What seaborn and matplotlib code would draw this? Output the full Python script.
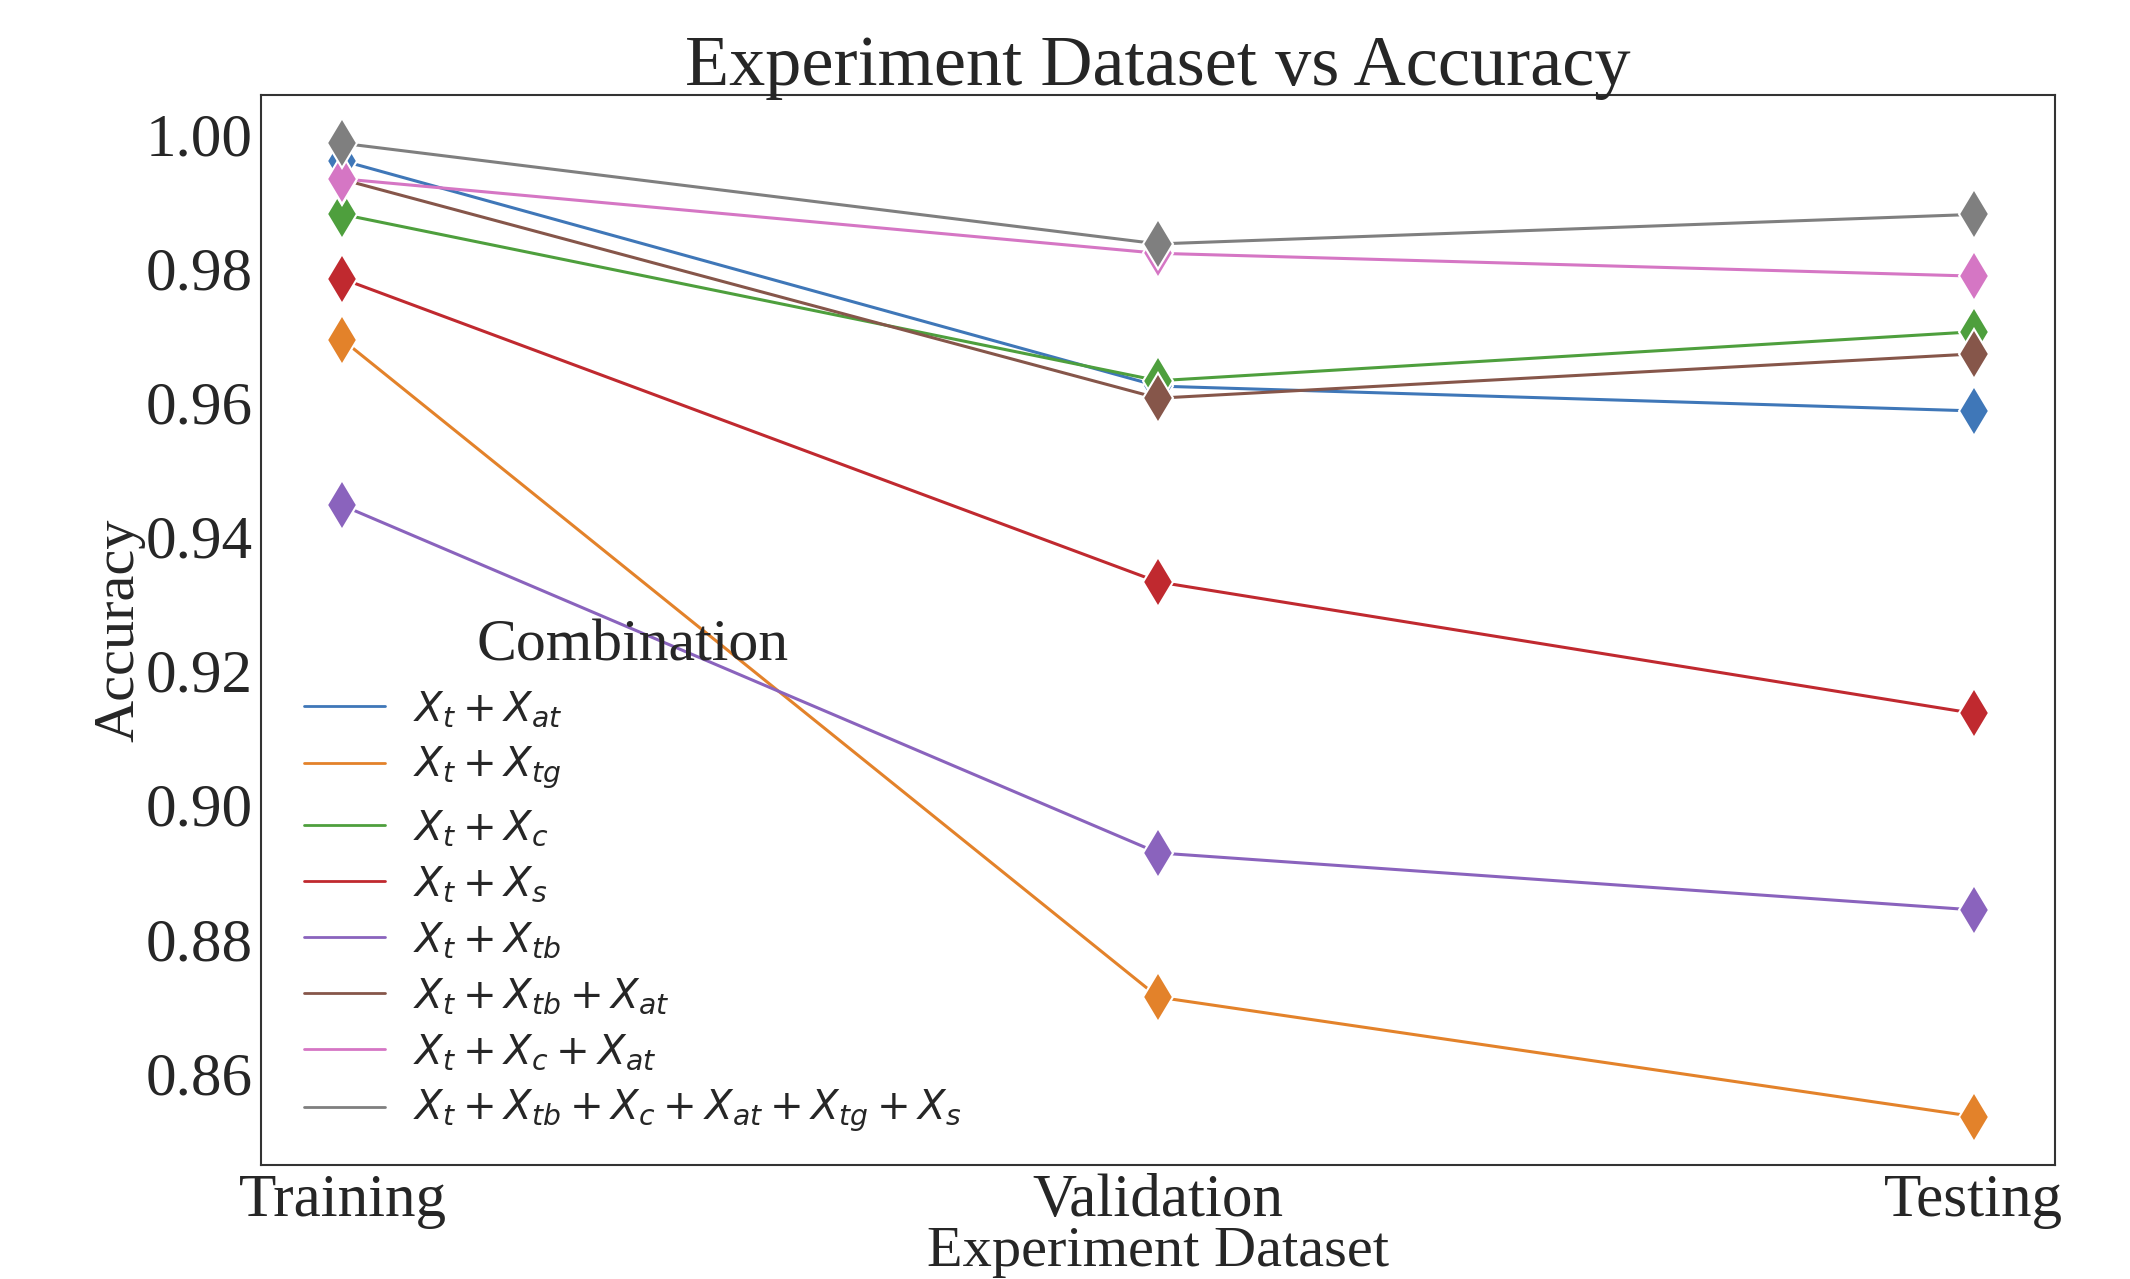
import matplotlib
matplotlib.use("Agg")
import matplotlib.pyplot as plt
import seaborn as sns
import pandas as pd

# Data
datasets = ["Training", "Validation", "Testing"]
combinations = [
    r"$X_t + X_{at}$",
    r"$X_t + X_{tg}$",
    r"$X_t + X_c$",
    r"$X_t + X_s$",
    r"$X_t + X_{tb}$",
    r"$X_t + X_{tb} + X_{at}$",
    r"$X_t + X_c + X_{at}$",
    r"$X_t + X_{tb} + X_c + X_{at} + X_{tg} + X_s$",
]
acc_t_at = [0.9960, 0.9624, 0.9587]
acc_t_tg = [0.9693, 0.8713, 0.8535]
acc_t_c = [0.9880, 0.9632, 0.9705]
acc_t_s = [0.9784, 0.9332, 0.9136]
acc_t_tb = [0.9446, 0.8928, 0.8843]
acc_t_tb_at = [0.9932, 0.9606, 0.9672]
acc_t_c_at = [0.9933, 0.9822, 0.9788]
acc_all = [0.9986, 0.9836, 0.9880]

series = [acc_t_at, acc_t_tg, acc_t_c, acc_t_s, acc_t_tb, acc_t_tb_at, acc_t_c_at, acc_all]

# tab10-like colours, slightly muted as in the reference
colors = ["#3f77b8", "#e3822a", "#4e9f3d", "#c0292f", "#8a63bd",
          "#86564a", "#d576c4", "#7f7f7f"]

rows = []
for name, vals in zip(combinations, series):
    for ds, v in zip(datasets, vals):
        rows.append({"Experiment Dataset": ds, "Accuracy": v, "Combination": name})
df = pd.DataFrame(rows)

sns.set_style("white")
plt.rcParams["font.family"] = ["Liberation Serif", "DejaVu Serif"]
plt.rcParams["mathtext.fontset"] = "dejavusans"

fig = plt.figure(figsize=(21.3, 12.79), dpi=100)
ax = fig.add_axes([0.1225, 0.089, 0.8425, 0.837])

sns.lineplot(data=df, x="Experiment Dataset", y="Accuracy", hue="Combination",
             palette=colors, marker="d", markersize=25, markeredgecolor="white",
             markeredgewidth=1.5, linewidth=2.2, ax=ax)

ax.set_title("Experiment Dataset vs Accuracy", fontsize=52, pad=7)
ax.set_xlabel("Experiment Dataset", fontsize=42, labelpad=-2)
ax.set_ylabel("Accuracy", fontsize=42, labelpad=0)
ax.tick_params(axis="both", labelsize=44, length=0, pad=6)
yticks = [0.86, 0.88, 0.90, 0.92, 0.94, 0.96, 0.98, 1.00]
ax.set_yticks(yticks)
ax.set_yticklabels([f"{t:.2f}" for t in yticks])

for s in ax.spines.values():
    s.set_color("#333333")
    s.set_linewidth(1.5)

leg = ax.legend(title="Combination", loc="lower left", frameon=False,
                fontsize=29, title_fontsize=43, handlelength=2.0,
                handletextpad=0.7, labelspacing=0.4,
                bbox_to_anchor=(0.004, -0.006))
for h in leg.legend_handles:
    h.set_marker("")
    h.set_linewidth(2)

fig.savefig("out.png", dpi=100)
